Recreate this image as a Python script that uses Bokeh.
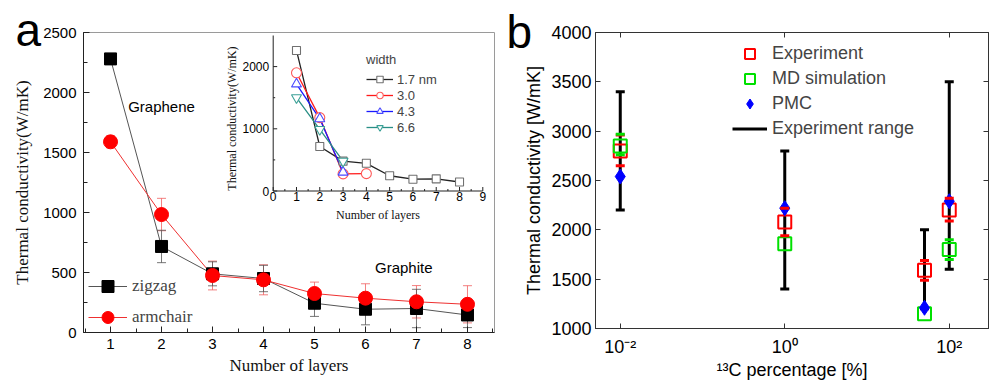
import math
from bokeh.plotting import figure
from bokeh.models import (Range1d, LinearAxis, LogAxis, FixedTicker, SingleIntervalTicker,
                          Legend, LegendItem, Label, Title)
from bokeh.layouts import row
from bokeh.embed import file_html
from bokeh.resources import INLINE
from bokeh.core.properties import value

# ---------------- Panel a data ----------------
layers = [1, 2, 3, 4, 5, 6, 7, 8]
zigzag = [2280, 717, 489, 450, 244, 194, 200, 146]
zigzag_err = [40, 135, 100, 110, 110, 130, 160, 105]
armchair = [1589, 983, 475, 439, 325, 286, 256, 235]
armchair_err = [50, 135, 120, 125, 95, 120, 135, 155]

# inset data (width series)
inset_l17 = [1, 2, 3, 4, 5, 6, 7, 8]
inset_w17 = [2260, 715, 480, 445, 245, 190, 195, 145]
inset_l30 = [1, 2, 3, 4]
inset_w30 = [1900, 1180, 276, 280]
inset_l43 = [1, 2, 3]
inset_w43 = [1720, 1160, 302]
inset_l66 = [1, 2, 3]
inset_w66 = [1500, 990, 480]
inset_labels = ["1.7 nm", "3.0", "4.3", "6.6"]
inset_xticks = [0, 1, 2, 3, 4, 5, 6, 7, 8, 9]
inset_yticks = [0, 1000, 2000]
inset_ytop = 2500

# ---------------- Panel b data ----------------
pct = [0.01, 1, 50, 100]
experiment = [2800, 2080, 1590, 2200]
exp_lo = [2650, 1940, 1490, 2090]
exp_hi = [2960, 2220, 1690, 2320]
md = [2850, 1860, 1150, 1800]
md_err_pct = [0.01, 100]
md_lo = [2760, 1700]
md_hi = [2970, 1900]
pmc = [2540, 2220, 1210, 2290]
range_lo = [2200, 1400, 1200, 1600]
range_hi = [3400, 2800, 2000, 3500]
pct_ticks = [0.01, 1, 100]
pct_tick_labels = ["10\u207b\u00b2", "10\u2070", "10\u00b2"]

SANS = "Liberation Sans"
SERIF = "Liberation Serif"
PAGE = 8  # page margin emulated inside the figure borders

# ================= Panel a =================
A_FW, A_FH = 411, 300
A_BL, A_BT = 75 + PAGE, 24 + PAGE
xr_a = Range1d(0.47, 8.53)
yr_a = Range1d(0, 2500)
pa = figure(frame_width=A_FW, frame_height=A_FH, x_range=xr_a, y_range=yr_a,
            min_border_left=A_BL, min_border_right=14, min_border_top=A_BT,
            min_border_bottom=50, output_backend="svg", toolbar_location=None,
            title=Title(text="a", align="left", offset=-68, standoff=-46,
                        text_font=SANS, text_font_size="46px", text_font_style="normal",
                        text_color="black"))
pa.xgrid.visible = False
pa.ygrid.visible = False
pa.outline_line_color = "#9a9a9a"
pa.xaxis.ticker = SingleIntervalTicker(interval=1, num_minor_ticks=2)
pa.yaxis.ticker = SingleIntervalTicker(interval=500, num_minor_ticks=2)
pa.xaxis.axis_label = "Number of layers"
pa.yaxis.axis_label = "Thermal conductivity(W/mK)"
for ax in (pa.xaxis[0], pa.yaxis[0]):
    ax.major_tick_in = 6
    ax.major_tick_out = 0
    ax.minor_tick_in = 4
    ax.minor_tick_out = 0
    ax.axis_line_color = "#222222"
    ax.major_tick_line_color = "#222222"
    ax.minor_tick_line_color = "#222222"
    ax.major_label_text_font = SANS
    ax.major_label_text_font_size = "15px"
    ax.major_label_text_color = "black"
    ax.axis_label_text_font = SERIF
    ax.axis_label_text_font_size = "17px"
    ax.axis_label_text_font_style = "normal"
    ax.axis_label_text_color = "#111111"
pa.xaxis.major_label_standoff = 6
pa.yaxis.major_label_standoff = 7
pa.xaxis.axis_label_standoff = 4
pa.yaxis.axis_label_standoff = 8

# error bars
z_lo = [v - e for v, e in zip(zigzag, zigzag_err)]
z_hi = [v + e for v, e in zip(zigzag, zigzag_err)]
a_lo = [v - e for v, e in zip(armchair, armchair_err)]
a_hi = [v + e for v, e in zip(armchair, armchair_err)]
pa.segment(x0=layers, y0=a_lo, x1=layers, y1=a_hi, line_color="#f06060", line_alpha=0.8, line_width=1)
pa.scatter(x=layers + layers, y=a_lo + a_hi, marker="dash", size=9, line_color="#f06060", line_alpha=0.8, line_width=1)
pa.segment(x0=layers, y0=z_lo, x1=layers, y1=z_hi, line_color="#555555", line_alpha=0.8, line_width=1)
pa.scatter(x=layers + layers, y=z_lo + z_hi, marker="dash", size=9, line_color="#555555", line_alpha=0.8, line_width=1)

zl = pa.line(layers, zigzag, line_color="#555555", line_width=1)
al = pa.line(layers, armchair, line_color="#ee3030", line_width=1)
zs = pa.scatter(layers, zigzag, marker="square", size=12, fill_color="black", line_color="black")
as_ = pa.scatter(layers, armchair, marker="circle", size=14, fill_color="#ff0000", line_color="#ff0000")

leg_a = Legend(items=[LegendItem(label="zigzag", renderers=[zl, zs]),
                      LegendItem(label="armchair", renderers=[al, as_])],
               location=(5, 0), padding=0, margin=0, spacing=1,
               glyph_width=39, glyph_height=30, label_height=30, label_standoff=5,
               label_text_font=SERIF, label_text_font_size="17px",
               background_fill_alpha=0, border_line_alpha=0)
pa.add_layout(leg_a)

pa.add_layout(Label(x=2.0, y=1880, text="Graphene", text_align="center", text_baseline="middle",
                    text_font=SANS, text_font_size="15px", text_color="black"))
pa.add_layout(Label(x=6.75, y=540, text="Graphite", text_align="center", text_baseline="middle",
                    text_font=SANS, text_font_size="15px", text_color="black"))

# ---- inset via extra ranges ----
INS_X0_PX = 189.7   # inset x=0 position from frame left (px)
INS_X_PX = 23.29    # px per layer
INS_Y0_PX = 141.5   # inset y=0 position above frame bottom (px)
INS_Y_PX = 0.0622   # px per W/mK
pa.extra_x_ranges = {"ix": Range1d(-INS_X0_PX / INS_X_PX, (A_FW - INS_X0_PX) / INS_X_PX)}
pa.extra_y_ranges = {"iy": Range1d(-INS_Y0_PX / INS_Y_PX, (A_FH - INS_Y0_PX) / INS_Y_PX)}
IK = dict(x_range_name="ix", y_range_name="iy")

# inset axes
pa.segment(x0=[inset_xticks[0], inset_xticks[0]], y0=[inset_yticks[0], inset_yticks[0]],
           x1=[inset_xticks[-1], inset_xticks[0]], y1=[inset_yticks[0], inset_ytop],
           line_color="#222222", line_width=1, **IK)
pa.ray(x=inset_xticks, y=[inset_yticks[0]] * len(inset_xticks), length=4, angle=math.pi / 2,
       length_units="screen", line_color="#222222", line_width=1, **IK)
ix_minor = [t + 0.5 for t in inset_xticks[:-1]]
pa.ray(x=ix_minor, y=[inset_yticks[0]] * len(ix_minor), length=2, angle=math.pi / 2,
       length_units="screen", line_color="#222222", line_width=1, **IK)
pa.ray(x=[inset_xticks[0]] * len(inset_yticks), y=inset_yticks, length=4, angle=0,
       length_units="screen", line_color="#222222", line_width=1, **IK)
iy_minor = [t + 500 for t in inset_yticks[:-1]]
pa.ray(x=[inset_xticks[0]] * len(iy_minor), y=iy_minor, length=2, angle=0,
       length_units="screen", line_color="#222222", line_width=1, **IK)
pa.text(x=inset_xticks, y=[inset_yticks[0]] * len(inset_xticks), text=[str(t) for t in inset_xticks],
        y_offset=1, text_align="center", text_baseline="top",
        text_font=value(SANS), text_font_size=value("12px"), text_color="black", **IK)
pa.text(x=[inset_xticks[0]] * len(inset_yticks), y=inset_yticks, text=[str(t) for t in inset_yticks],
        x_offset=-4, text_align="right", text_baseline="middle",
        text_font=value(SANS), text_font_size=value("12px"), text_color="black", **IK)
pa.text(x=[(inset_xticks[0] + inset_xticks[-1]) / 2], y=[inset_yticks[0]], text=["Number of layers"],
        y_offset=17, text_align="center", text_baseline="top",
        text_font=value(SERIF), text_font_size=value("12px"), text_color="#111111", **IK)
pa.text(x=[inset_xticks[0]], y=[1165], text=["Thermal conductivity(W/mK)"],
        x_offset=-41, angle=math.pi / 2, text_align="center", text_baseline="middle",
        text_font=value(SERIF), text_font_size=value("12px"), text_color="#111111", **IK)

inset_series = [
    (inset_l17, inset_w17, "#222222", "#707070", "square", 8),
    (inset_l30, inset_w30, "#ff1a1a", "#ff5a5a", "circle", 10),
    (inset_l43, inset_w43, "#1a1aff", "#4a4aff", "triangle", 10),
    (inset_l66, inset_w66, "#2a8f86", "#3aa096", "inverted_triangle", 10),
]
inset_items = []
ordered = []
for (lx, ly, lc, mc, mk, sz), lab in zip(inset_series, inset_labels):
    r_line = pa.line(lx, ly, line_color=lc, line_width=1.3, **IK)
    ordered.append((lab, r_line, lx, ly, mc, mk, sz))
for lab, r_line, lx, ly, mc, mk, sz in ordered:
    r_mk = pa.scatter(lx, ly, marker=mk, size=sz, fill_color="white", line_color=mc, line_width=1.1, **IK)
    inset_items.append(LegendItem(label=lab, renderers=[r_line, r_mk]))

leg_i = Legend(items=inset_items, title="width", location=(283, 197), padding=0, margin=0, spacing=0,
               glyph_width=27, glyph_height=16, label_height=16, label_standoff=4,
               label_text_font=SANS, label_text_font_size="13px",
               title_text_font=SANS, title_text_font_size="13px", title_text_font_style="normal",
               title_standoff=4, background_fill_alpha=0, border_line_alpha=0)
pa.add_layout(leg_i)

# ================= Panel b =================
B_FW, B_FH = 393, 296
xr_b = Range1d(0.005, 300)
yr_b = Range1d(1000, 4000)
pb = figure(frame_width=B_FW, frame_height=B_FH, x_axis_type="log", x_range=xr_b, y_range=yr_b,
            min_border_left=87, min_border_right=4, min_border_top=22 + PAGE, min_border_bottom=56,
            output_backend="svg", toolbar_location=None,
            title=Title(text="b", align="left", offset=-89, standoff=-50,
                        text_font=SANS, text_font_size="46px", text_font_style="normal",
                        text_color="black"))
pb.xgrid.visible = False
pb.ygrid.visible = False
pb.outline_line_color = "#333333"

bx = pb.xaxis[0]
by = pb.yaxis[0]
bx.ticker = FixedTicker(ticks=pct_ticks, minor_ticks=[])
bx.major_label_overrides = dict(zip(pct_ticks, pct_tick_labels))
by.ticker = SingleIntervalTicker(interval=500, num_minor_ticks=0)
bx.axis_label = "\u00b9\u00b3C percentage [%]"
by.axis_label = "Thermal conductivity [W/mK]"
for ax in (bx, by):
    ax.major_tick_in = 5
    ax.major_tick_out = 0
    ax.minor_tick_in = 0
    ax.minor_tick_out = 0
    ax.axis_line_color = "#333333"
    ax.major_tick_line_color = "#333333"
    ax.major_label_text_font = SANS
    ax.major_label_text_font_size = "18px"
    ax.major_label_text_color = "black"
    ax.axis_label_text_font = SANS
    ax.axis_label_text_font_size = "18px"
    ax.axis_label_text_font_style = "normal"
    ax.axis_label_text_color = "black"
bx.major_label_standoff = 8
by.major_label_standoff = 4
bx.axis_label_standoff = 0
by.axis_label_standoff = 4

right_ax = LinearAxis(ticker=SingleIntervalTicker(interval=500, num_minor_ticks=0),
                      major_label_text_font_size="1px", major_label_text_alpha=0, major_label_standoff=0,
                      major_tick_in=5, major_tick_out=0, minor_tick_in=0, minor_tick_out=0,
                      axis_line_color="#333333", major_tick_line_color="#333333")
pb.add_layout(right_ax, "right")
top_ax = LogAxis(ticker=FixedTicker(ticks=pct_ticks, minor_ticks=[]),
                 major_label_text_font_size="1px", major_label_text_alpha=0, major_label_standoff=0,
                 major_tick_in=5, major_tick_out=0, minor_tick_in=0, minor_tick_out=0,
                 axis_line_color="#333333", major_tick_line_color="#333333")
pb.add_layout(top_ax, "above")

rng_r = pb.segment(x0=pct, y0=range_lo, x1=pct, y1=range_hi, line_color="black", line_width=3)
pb.scatter(x=pct + pct, y=range_lo + range_hi, marker="dash", size=9, line_color="black", line_width=3)
exp_r = pb.scatter(pct, experiment, marker="square", size=13, fill_alpha=0, line_color="#ff0000", line_width=2)
md_r = pb.scatter(pct, md, marker="square", size=13, fill_alpha=0, line_color="#00e000", line_width=2)
pmc_r = pb.scatter(pct, pmc, marker="diamond", size=15, fill_color="#0000ff", line_color="#0000ff")
pb.scatter(x=pct + pct, y=exp_lo + exp_hi, marker="dash", size=9, line_color="#ff0000", line_width=3)
pb.scatter(x=md_err_pct + md_err_pct, y=md_lo + md_hi, marker="dash", size=9, line_color="#00e000", line_width=3)

leg_b = Legend(items=[LegendItem(label="Experiment", renderers=[exp_r]),
                      LegendItem(label="MD simulation", renderers=[md_r]),
                      LegendItem(label="PMC", renderers=[pmc_r]),
                      LegendItem(label="Experiment range", renderers=[rng_r])],
               location=(137, 187), padding=0, margin=0, spacing=0,
               glyph_width=35, glyph_height=25, label_height=25, label_standoff=5,
               label_text_font=SANS, label_text_font_size="18px",
               background_fill_alpha=0, border_line_alpha=0)
pb.add_layout(leg_b)

layout = row(pa, pb)
open("out.html", "w").write(file_html(layout, INLINE, "chart"))
